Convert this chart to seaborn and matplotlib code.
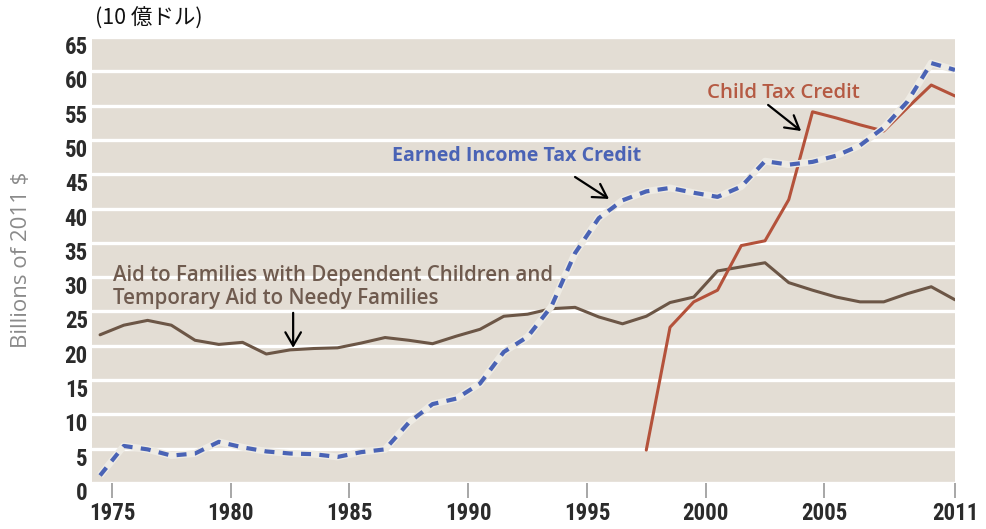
import numpy as np
import pandas as pd
import matplotlib
matplotlib.use("Agg")
import matplotlib.pyplot as plt
from matplotlib import transforms
import seaborn as sns

# Spending on cash and tax-credit programs, billions of 2011 dollars
years = list(range(1975, 2012))
afdc_tanf = [21.6, 23.0, 23.7, 23.0, 20.8, 20.2, 20.5, 18.8, 19.4, 19.6,
             19.7, 20.4, 21.2, 20.8, 20.3, 21.4, 22.4, 24.3, 24.6, 25.4,
             25.6, 24.2, 23.2, 24.3, 26.3, 27.1, 30.9, 31.5, 32.1, 29.2,
             28.1, 27.1, 26.4, 26.4, 27.6, 28.6, 26.7]
eitc = [1.1, 5.4, 4.9, 4.0, 4.3, 6.0, 5.2, 4.6, 4.3, 4.2,
        3.8, 4.5, 4.9, 8.8, 11.5, 12.3, 14.5, 19.1, 21.3, 25.7,
        33.5, 38.6, 41.2, 42.5, 43.0, 42.3, 41.7, 43.2, 46.9, 46.4,
        46.8, 47.7, 49.2, 51.8, 55.6, 61.2, 60.2]
ctc_years = list(range(1998, 2012))
ctc = [4.8, 22.7, 26.4, 28.1, 34.6, 35.3, 41.3, 54.1, 53.2, 52.2, 51.3,
       54.7, 58.0, 56.4]

tick_years = [1975, 1980, 1985, 1990, 1995, 2000, 2005, 2011]
y_ticks = list(range(0, 66, 5))

unit_label = "(10 億ドル)"
y_title = "Billions of 2011 $"
afdc_label = "Aid to Families with Dependent Children and\nTemporary Aid to Needy Families"
eitc_label = "Earned Income Tax Credit"
ctc_label = "Child Tax Credit"

BG = "#e3ddd4"
BROWN = "#6c5646"
BLUE = "#4a63b5"
PALE = "#eeebe4"
RED = "#b4523b"

sns.set_theme(style="white")
plt.rcParams["font.family"] = ["Open Sans", "DejaVu Sans"]

fig = plt.figure(figsize=(9.86, 5.29), dpi=100)
ax = fig.add_axes([92 / 986, 46 / 529, 863 / 986, 446 / 529])
ax.set_facecolor(BG)

df = pd.DataFrame({"year": years, "afdc": afdc_tanf, "eitc": eitc})
df_ctc = pd.DataFrame({"year": ctc_years, "ctc": ctc})

sns.lineplot(data=df, x="year", y="afdc", ax=ax, color=BROWN, lw=2.2,
             zorder=3)
sns.lineplot(data=df_ctc, x="year", y="ctc", ax=ax, color=RED, lw=2.2,
             zorder=3)
# dashed credit line drawn over a pale casing
sns.lineplot(data=df, x="year", y="eitc", ax=ax, color=PALE, lw=5.0,
             zorder=4, solid_capstyle="butt")
sns.lineplot(data=df, x="year", y="eitc", ax=ax, color=BLUE, lw=3.0,
             linestyle=(0, (2.4, 2.0)), zorder=5)

ax.set_xlim(years[0] - 0.34, years[-1])
ax.set_ylim(0, 65)

# tick marks sit mid-year; the last one marks the end of the series
tick_pos = [y + 0.5 for y in tick_years[:-1]] + [years[-1]]
ax.set_xticks(tick_pos)
ax.set_xticklabels([str(y) for y in tick_years])
ax.set_xticks([years[-1]], minor=True)
ax.set_yticks(y_ticks)
ax.set_yticklabels([str(v) for v in y_ticks])

tick_font = ["Liberation Sans Narrow", "Roboto Condensed", "Liberation Sans",
             "DejaVu Sans"]
for lab in ax.get_xticklabels() + ax.get_yticklabels():
    lab.set_family(tick_font)
    lab.set_weight("bold")
    lab.set_fontsize(16.5)
    lab.set_color("#2b2b2b")

ax.tick_params(axis="x", which="major", direction="out", length=10.8,
               width=1.1, color="#8f8f8f", pad=3.0, bottom=True)
ax.tick_params(axis="x", which="minor", direction="inout", length=19.5,
               width=1.1, color="#8f8f8f", bottom=True)
ax.tick_params(axis="y", length=0, pad=3)

shift = transforms.ScaledTranslation(0, -0.08, fig.dpi_scale_trans)
for lab in ax.get_yticklabels():
    lab.set_transform(lab.get_transform() + shift)

ax.yaxis.grid(True, color="white", lw=2.4)
ax.xaxis.grid(False)
ax.set_axisbelow(True)
for s in ax.spines.values():
    s.set_visible(False)

ax.set_xlabel("")
ax.set_ylabel(y_title, color="#8a8a8a", fontsize=16)
ax.yaxis.set_label_coords(-0.069, 0.5)

fig.text(95 / 986, 1 - 19 / 529, unit_label,
         family=["Noto Sans CJK JP", "DejaVu Sans"], fontsize=15.5,
         ha="left", va="center", color="#111111")

ax.text(1975.56, 28.6, afdc_label, color="#6f5b4f", fontsize=14.8,
        weight="semibold", ha="left", va="center", linespacing=1.15,
        zorder=6)
ax.text(1987.28, 47.6, eitc_label, color=BLUE, fontsize=14.1,
        weight="bold", ha="left", va="center", zorder=6)
ax.text(2000.55, 56.85, ctc_label, color="#b55a43", fontsize=14.7,
        weight="semibold", ha="left", va="center", zorder=6)

arrow = dict(arrowstyle="->,head_length=0.6,head_width=0.35", color="black",
             lw=1.6, mutation_scale=16, shrinkA=0, shrinkB=0)
ax.annotate("", xy=(1983.13, 19.7), xytext=(1983.13, 24.8),
            arrowprops=arrow, zorder=6)
ax.annotate("", xy=(1996.43, 41.4), xytext=(1995.0, 44.6),
            arrowprops=arrow, zorder=6)
ax.annotate("", xy=(2004.52, 51.3), xytext=(2003.13, 55.1),
            arrowprops=arrow, zorder=6)

fig.savefig("out.png", dpi=100, facecolor="white")
